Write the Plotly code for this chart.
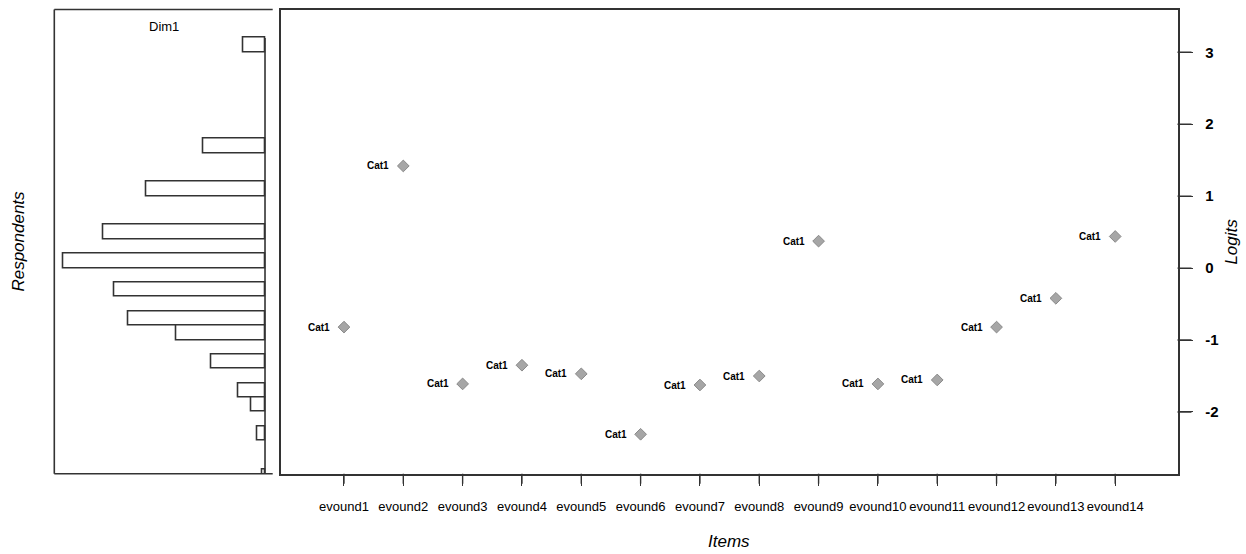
import plotly.graph_objects as go

# ---- data ----
items = ["evound1", "evound2", "evound3", "evound4", "evound5", "evound6", "evound7",
         "evound8", "evound9", "evound10", "evound11", "evound12", "evound13", "evound14"]
item_logits = [-0.82, 1.42, -1.61, -1.35, -1.47, -2.31, -1.625,
               -1.50, 0.375, -1.61, -1.555, -0.82, -0.42, 0.44]
item_labels = ["Cat1"] * 14

# respondent histogram: lower bin edge (logits) and count
bin_lower = [3.0, 1.6, 1.0, 0.4, 0.0, -0.4, -0.8, -1.0, -1.4, -1.8, -2.0, -2.4, -3.0]
bin_counts = [8, 23, 44, 60, 75, 56, 51, 33, 20, 10, 5, 3, 1]
bin_width = 0.2

logit_ticks = [-2, -1, 0, 1, 2, 3]

# ---- geometry ----
W, H = 1246, 554
main_x = [280.5 / W, 1177.5 / W]
hist_x = [54.3 / W, 272.7 / W]
dom_y = [1 - 473.7 / H, 1 - 9.5 / H]
y_range = [-2.858, 3.595]

LINE = "#333333"
FONT = "Liberation Sans, Arial, sans-serif"

fig = go.Figure()

# histogram bars
fig.add_trace(go.Bar(
    y=[b + bin_width / 2 for b in bin_lower], x=bin_counts, orientation="h",
    width=bin_width, marker=dict(color="white", line=dict(color=LINE, width=1.6)),
    xaxis="x2", yaxis="y2", showlegend=False, hoverinfo="x+y"))

# item markers
fig.add_trace(go.Scatter(
    x=items, y=item_logits, mode="markers",
    marker=dict(symbol="diamond", size=9, color="#a6a6a6",
                line=dict(color="#8a8a8a", width=1)),
    xaxis="x", yaxis="y", showlegend=False))

annotations = []
for it, v, lab in zip(items, item_logits, item_labels):
    annotations.append(dict(x=it, y=v, xref="x", yref="y", text="<b>%s</b>" % lab,
                            showarrow=False, xanchor="right", yanchor="middle", xshift=-12,
                            font=dict(family=FONT, size=10, color="black")))

annotations += [
    dict(text="Dim1", x=(hist_x[0] + hist_x[1]) / 2, y=1 - 26 / H, xref="paper", yref="paper",
         showarrow=False, xanchor="center", yanchor="middle",
         font=dict(family=FONT, size=13, color="black")),
    dict(text="<i>Respondents</i>", x=19 / W, y=(dom_y[0] + dom_y[1]) / 2, xref="paper", yref="paper",
         showarrow=False, textangle=-90, xanchor="center", yanchor="middle",
         font=dict(family=FONT, size=17, color="black")),
    dict(text="<i>Logits</i>", x=1232 / W, y=(dom_y[0] + dom_y[1]) / 2, xref="paper", yref="paper",
         showarrow=False, textangle=-90, xanchor="center", yanchor="middle",
         font=dict(family=FONT, size=17, color="black")),
    dict(text="<i>Items</i>", x=(main_x[0] + main_x[1]) / 2, y=1 - 541 / H, xref="paper", yref="paper",
         showarrow=False, xanchor="center", yanchor="middle",
         font=dict(family=FONT, size=17, color="black")),
]

ln = dict(color=LINE, width=1.6)
shapes = [
    # histogram box: left, top, bottom (open on the right)
    dict(type="line", xref="paper", yref="paper", x0=hist_x[0], x1=hist_x[0], y0=dom_y[0], y1=dom_y[1], line=ln),
    dict(type="line", xref="paper", yref="paper", x0=hist_x[0], x1=hist_x[1], y0=dom_y[1], y1=dom_y[1], line=ln),
    dict(type="line", xref="paper", yref="paper", x0=hist_x[0], x1=hist_x[1], y0=dom_y[0], y1=dom_y[0], line=ln),
    # histogram baseline
    dict(type="line", xref="x2", yref="y2", x0=0, x1=0, y0=y_range[0], y1=max(bin_lower) + bin_width, line=ln),
]
tk = dict(color=LINE, width=1.4)
# tick marks on the item axis (bottom) and logit axis (right)
for it in items:
    shapes.append(dict(type="line", xref="x", yref="paper", x0=it, x1=it,
                       y0=dom_y[0], y1=dom_y[0] - 10 / H, line=tk))
for t in logit_ticks:
    shapes.append(dict(type="line", xref="paper", yref="y", x0=main_x[1], x1=main_x[1] + 14 / W,
                       y0=t, y1=t, line=tk))

fig.update_layout(
    width=W, height=H, margin=dict(l=0, r=0, t=0, b=0),
    paper_bgcolor="white", plot_bgcolor="white",
    bargap=0, showlegend=False,
    xaxis=dict(domain=main_x, type="category", categoryorder="array", categoryarray=items,
               range=[-1.07, 14.05], showgrid=False, zeroline=False,
               showline=True, mirror=True, linecolor=LINE, linewidth=1.6,
               ticks="outside", ticklen=10, tickcolor=LINE, tickwidth=1.4,
               ticklabelstandoff=10,
               tickfont=dict(family=FONT, size=13, color="black"), anchor="y"),
    yaxis=dict(domain=dom_y, range=y_range, side="right", showgrid=False, zeroline=False,
               showline=True, mirror=True, linecolor=LINE, linewidth=1.6,
               tickvals=logit_ticks, ticktext=["<b>%d</b>" % t for t in logit_ticks],
               ticks="outside", ticklen=14, tickcolor=LINE, tickwidth=1.4,
               ticklabelstandoff=9,
               tickfont=dict(family=FONT, size=15, color="black"), anchor="x"),
    xaxis2=dict(domain=hist_x, range=[78.36, -2.86], showgrid=False, zeroline=False,
                showticklabels=False, ticks="", showline=False, anchor="y2"),
    yaxis2=dict(domain=dom_y, range=y_range, showgrid=False, zeroline=False,
                showticklabels=False, ticks="", showline=False, anchor="x2"),
    annotations=annotations, shapes=shapes,
)

fig.write_html("out.html", config={"displayModeBar": False},
               post_script="document.body.style.margin='0';document.body.style.overflow='hidden';")
